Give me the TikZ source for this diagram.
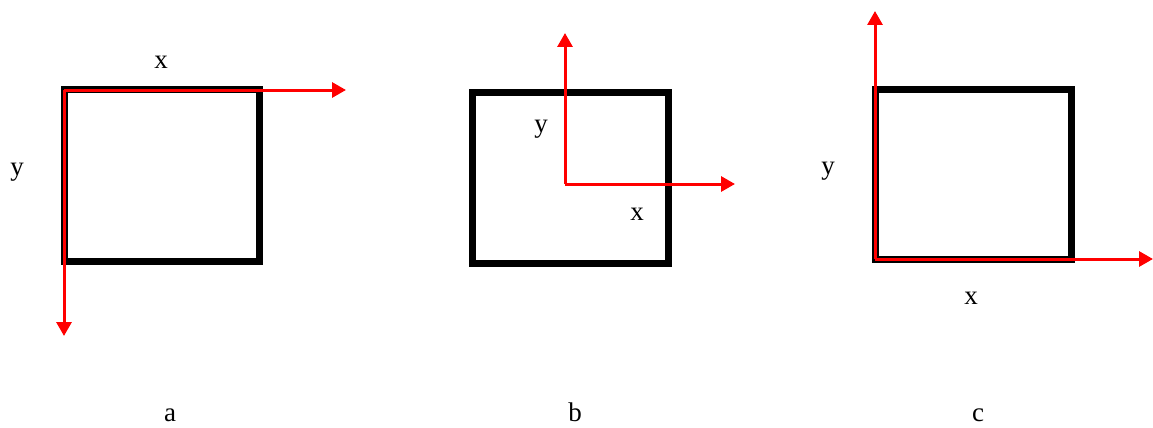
\documentclass[tikz,border=0pt]{standalone}
\usepackage{fontspec}
\setmainfont{Liberation Serif}
\usetikzlibrary{arrows.meta}
\begin{document}
\begin{tikzpicture}[x=1pt,y=-1pt,
  frame/.style={draw=black,line width=7pt},
  axis/.style={draw=red,line width=3pt,-{Triangle[length=14pt,width=15pt]}},
  lbl/.style={font=\fontsize{27}{30}\selectfont,inner sep=0pt},
  captionlbl/.style={lbl,anchor=base}]
\useasboundingbox (0,0) rectangle (1153,428);
% panel a
\draw[frame] (64,89) rectangle (259,261);
\coordinate (oa) at (64,90);
\coordinate (xa) at (346,90);
\coordinate (ya) at (64,336);
\draw[axis] (oa) -- (xa);
\draw[axis] (oa) -- (ya);
\node[lbl] (lxa) at (161,62) {x};
\node[lbl] (lya) at (17,172) {y};
\node[captionlbl] (la) at (170,421) {a};
% panel b
\draw[frame] (472,92) rectangle (668,263);
\coordinate (ob) at (565,184);
\coordinate (xb) at (735,184);
\coordinate (yb) at (565,33);
\draw[axis] (ob) -- (xb);
\draw[axis] (ob) -- (yb);
\node[lbl] (lxb) at (637,214) {x};
\node[lbl] (lyb) at (541,129) {y};
\node[captionlbl] (lb) at (575,421) {b};
% panel c
\draw[frame] (875,89) rectangle (1071,259);
\coordinate (oc) at (875,259);
\coordinate (xc) at (1153,259);
\coordinate (yc) at (875,11);
\draw[axis] (oc) -- (xc);
\draw[axis] (oc) -- (yc);
\node[lbl] (lxc) at (971,298) {x};
\node[lbl] (lyc) at (828,171) {y};
\node[captionlbl] (lc) at (978,421) {c};
\end{tikzpicture}
\end{document}
